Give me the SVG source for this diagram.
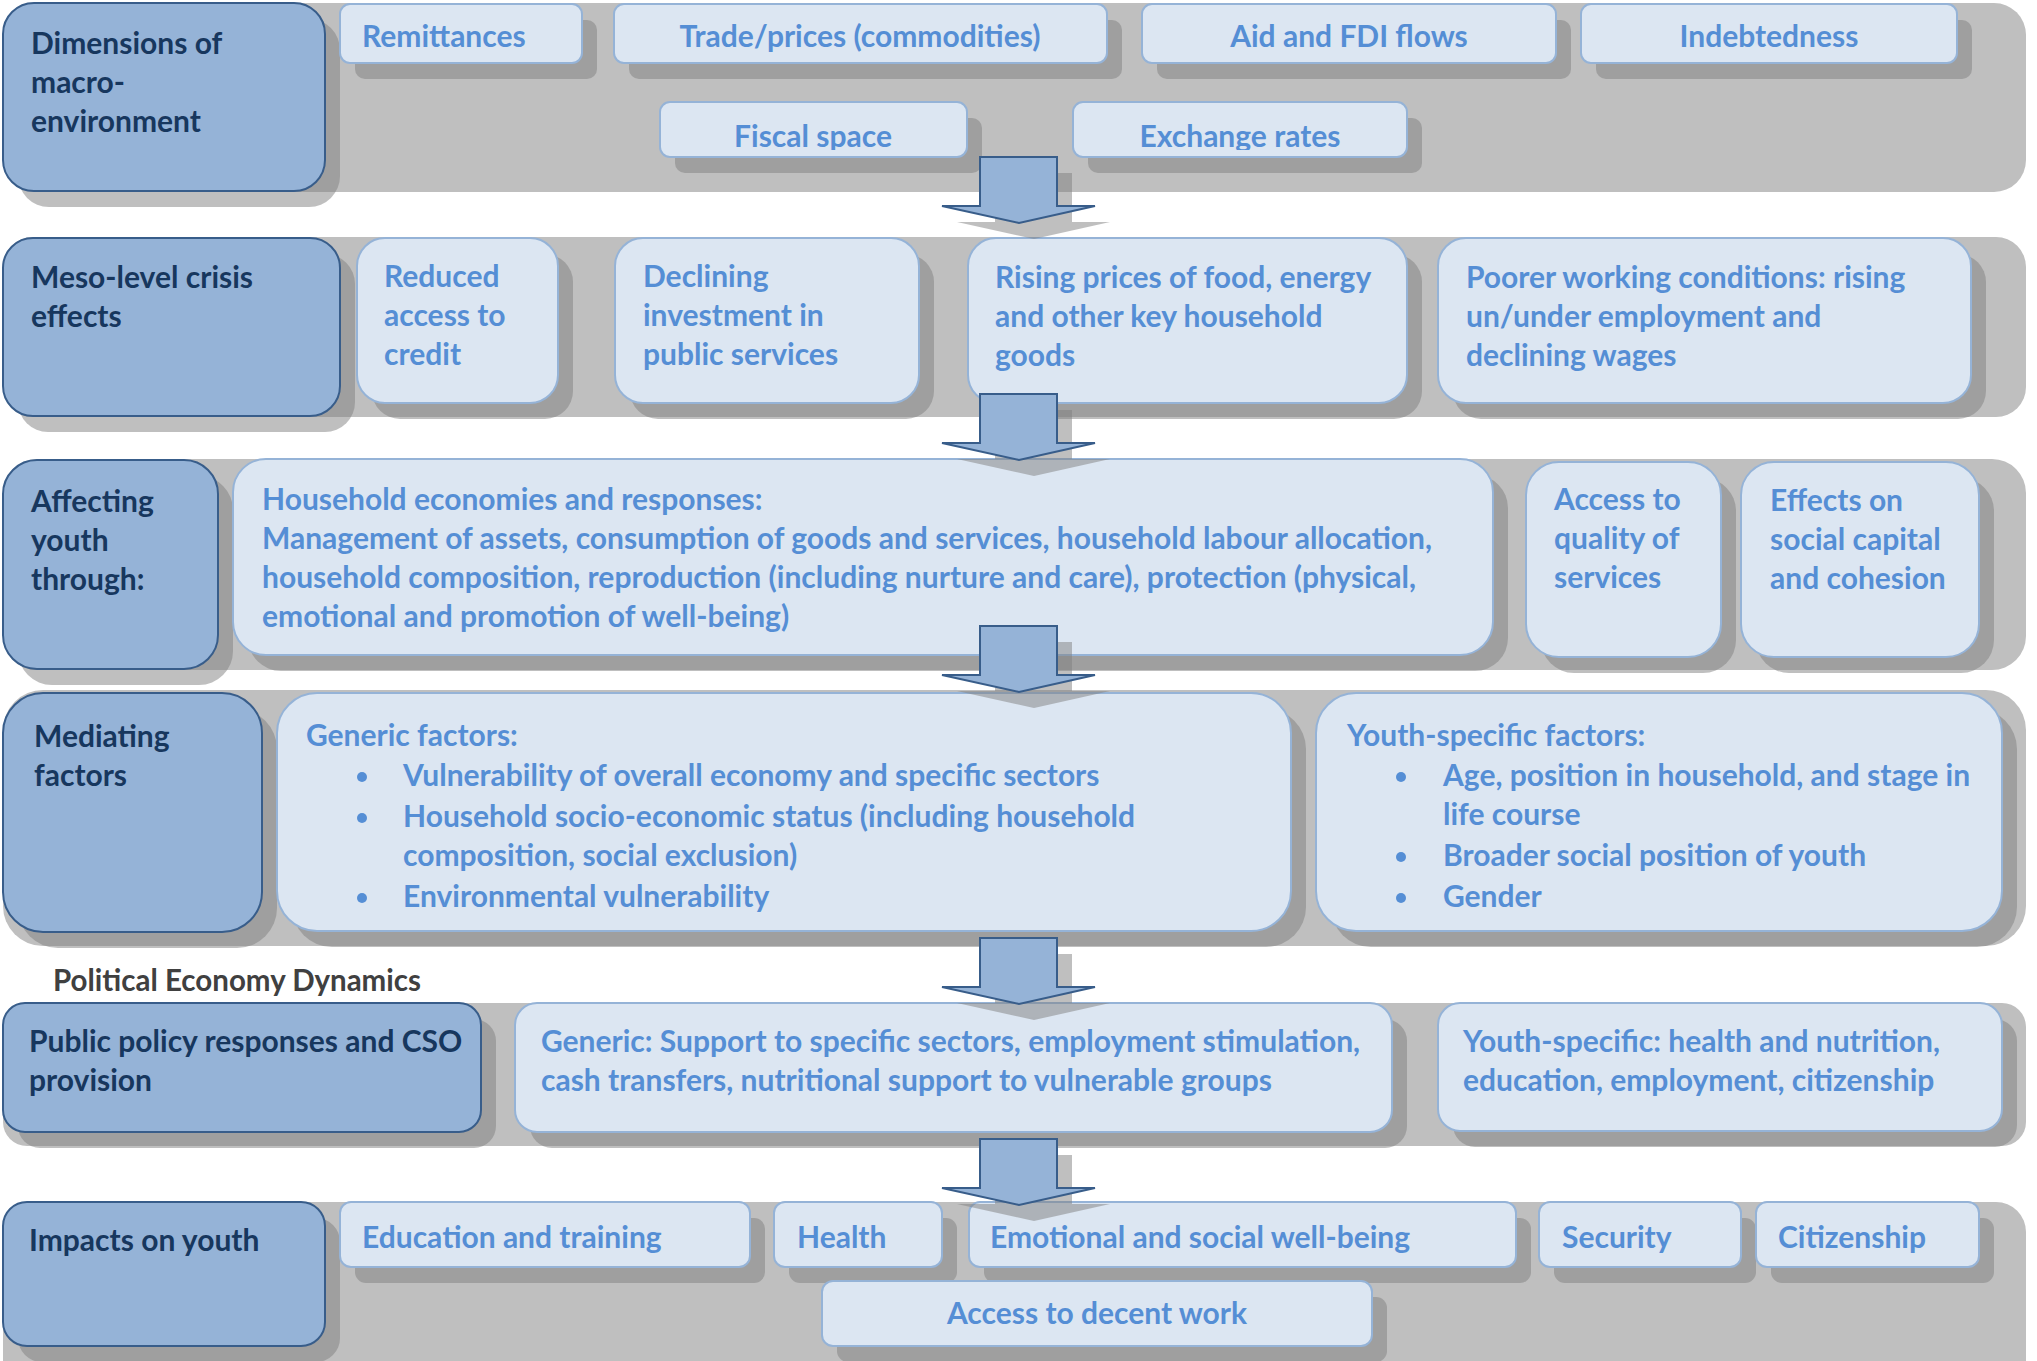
<svg xmlns="http://www.w3.org/2000/svg" width="2037" height="1361" viewBox="0 0 2037 1361">
<style>
.band{fill:#BFBFBF}
.sh{fill:#808080}
.lbox{fill:#95B3D7;stroke:#385D8A;stroke-width:2}
.box{fill:#DCE6F2;stroke:#95B3D7;stroke-width:2}
text{font-family:Lato,"Open Sans",sans-serif;font-weight:700;font-size:30px}
.lt{fill:#17375E}
.t{fill:#558ED5}
.c{text-anchor:middle}
.pe{fill:#404040;font-size:29.5px}
.arrow{fill:#95B3D7;stroke:#385D8A;stroke-width:2}
.bul{fill:#558ED5}
</style>
<defs>
<clipPath id="clipR1"><rect x="0" y="0" width="2037" height="150"/></clipPath>
</defs>
<rect width="2037" height="1361" fill="#FFFFFF"/>

<!-- Row 1 -->
<g id="row1">
<rect class="band" x="3" y="3" width="2023" height="189" rx="32"/>
<g opacity="0.5" class="sh">
<rect x="18" y="19" width="322" height="188" rx="31"/>
<rect x="355" y="20" width="242" height="59" rx="10"/>
<rect x="629" y="20" width="493" height="59" rx="10"/>
<rect x="1157" y="20" width="414" height="59" rx="10"/>
<rect x="1596" y="20" width="376" height="59" rx="10"/>
<rect x="675" y="118" width="307" height="55" rx="10"/>
<rect x="1088" y="118" width="334" height="55" rx="10"/>
</g>
<g id="n-macro"><rect class="lbox" x="3" y="3" width="322" height="188" rx="31"/>
<text class="lt" x="31" y="54">Dimensions of</text><text class="lt" x="31" y="93">macro-</text><text class="lt" x="31" y="132">environment</text></g>
<g id="n-remit"><rect class="box" x="340" y="4" width="242" height="59" rx="10"/><text class="t" x="362" y="47">Remittances</text></g>
<g id="n-trade"><rect class="box" x="614" y="4" width="493" height="59" rx="10"/><text class="t c" x="860" y="47">Trade/prices (commodities)</text></g>
<g id="n-aid"><rect class="box" x="1142" y="4" width="414" height="59" rx="10"/><text class="t c" x="1349" y="47">Aid and FDI flows</text></g>
<g id="n-debt"><rect class="box" x="1581" y="4" width="376" height="59" rx="10"/><text class="t c" x="1769" y="47">Indebtedness</text></g>
<g id="n-fiscal"><rect class="box" x="660" y="102" width="307" height="55" rx="10"/><text class="t c" x="813" y="147" clip-path="url(#clipR1)">Fiscal space</text></g>
<g id="n-exch"><rect class="box" x="1073" y="102" width="334" height="55" rx="10"/><text class="t c" x="1240" y="147" clip-path="url(#clipR1)">Exchange rates</text></g>
</g>

<!-- Row 2 -->
<g id="row2">
<rect class="band" x="3" y="237" width="2023" height="180" rx="30"/>
<g opacity="0.5" class="sh">
<rect x="18" y="254" width="337" height="178" rx="30"/>
<rect x="372" y="254" width="201" height="165" rx="28"/>
<rect x="630" y="254" width="304" height="165" rx="28"/>
<rect x="983" y="254" width="439" height="165" rx="28"/>
<rect x="1453" y="254" width="533" height="165" rx="28"/>
</g>
<g id="n-meso"><rect class="lbox" x="3" y="238" width="337" height="178" rx="30"/>
<text class="lt" x="31" y="288">Meso-level crisis</text><text class="lt" x="31" y="327">effects</text></g>
<g id="n-credit"><rect class="box" x="357" y="238" width="201" height="165" rx="28"/>
<text class="t" x="384" y="287">Reduced</text><text class="t" x="384" y="326">access to</text><text class="t" x="384" y="365">credit</text></g>
<g id="n-invest"><rect class="box" x="615" y="238" width="304" height="165" rx="28"/>
<text class="t" x="643" y="287">Declining</text><text class="t" x="643" y="326">investment in</text><text class="t" x="643" y="365">public services</text></g>
<g id="n-prices"><rect class="box" x="968" y="238" width="439" height="165" rx="28"/>
<text class="t" x="995" y="288">Rising prices of food, energy</text><text class="t" x="995" y="327">and other key household</text><text class="t" x="995" y="366">goods</text></g>
<g id="n-work"><rect class="box" x="1438" y="238" width="533" height="165" rx="28"/>
<text class="t" x="1466" y="288">Poorer working conditions: rising</text><text class="t" x="1466" y="327">un/under employment and</text><text class="t" x="1466" y="366">declining wages</text></g>
</g>

<!-- Row 3 -->
<g id="row3">
<rect class="band" x="3" y="459" width="2023" height="211" rx="34"/>
<g opacity="0.5" class="sh">
<rect x="18" y="476" width="215" height="209" rx="34"/>
<rect x="248" y="475" width="1260" height="196" rx="33"/>
<rect x="1541" y="478" width="195" height="195" rx="33"/>
<rect x="1756" y="478" width="238" height="195" rx="33"/>
</g>
<g id="n-affect"><rect class="lbox" x="3" y="460" width="215" height="209" rx="34"/>
<text class="lt" x="31" y="512">Affecting</text><text class="lt" x="31" y="551">youth</text><text class="lt" x="31" y="590">through:</text></g>
<g id="n-household"><rect class="box" x="233" y="459" width="1260" height="196" rx="33"/>
<text class="t" x="262" y="510">Household economies and responses:</text>
<text class="t" x="262" y="549">Management of assets, consumption of goods and services, household labour allocation,</text>
<text class="t" x="262" y="588">household composition, reproduction (including nurture and care), protection (physical,</text>
<text class="t" x="262" y="627">emotional and promotion of well-being)</text></g>
<g id="n-access"><rect class="box" x="1526" y="462" width="195" height="195" rx="33"/>
<text class="t" x="1554" y="510">Access to</text><text class="t" x="1554" y="549">quality of</text><text class="t" x="1554" y="588">services</text></g>
<g id="n-social"><rect class="box" x="1741" y="462" width="238" height="195" rx="33"/>
<text class="t" x="1770" y="511">Effects on</text><text class="t" x="1770" y="550">social capital</text><text class="t" x="1770" y="589">and cohesion</text></g>
</g>

<!-- Row 4 -->
<g id="row4">
<rect class="band" x="3" y="690" width="2023" height="256" rx="40"/>
<g opacity="0.5" class="sh">
<rect x="18" y="709" width="259" height="239" rx="40"/>
<rect x="292" y="709" width="1014" height="238" rx="40"/>
<rect x="1331" y="709" width="686" height="238" rx="40"/>
</g>
<g id="n-mediating"><rect class="lbox" x="3" y="693" width="259" height="239" rx="40"/>
<text class="lt" x="34" y="747">Mediating</text><text class="lt" x="34" y="786">factors</text></g>
<g id="n-generic"><rect class="box" x="277" y="693" width="1014" height="238" rx="40"/>
<text class="t" x="306" y="746">Generic factors:</text>
<circle class="bul" cx="362" cy="777" r="5"/><text class="t" x="403" y="786">Vulnerability of overall economy and specific sectors</text>
<circle class="bul" cx="362" cy="818" r="5"/><text class="t" x="403" y="827">Household socio-economic status (including household</text>
<text class="t" x="403" y="866">composition, social exclusion)</text>
<circle class="bul" cx="362" cy="898" r="5"/><text class="t" x="403" y="907">Environmental vulnerability</text></g>
<g id="n-youthfactors"><rect class="box" x="1316" y="693" width="686" height="238" rx="40"/>
<text class="t" x="1347" y="746">Youth-specific factors:</text>
<circle class="bul" cx="1401" cy="777" r="5"/><text class="t" x="1443" y="786">Age, position in household, and stage in</text>
<text class="t" x="1443" y="825">life course</text>
<circle class="bul" cx="1401" cy="857" r="5"/><text class="t" x="1443" y="866">Broader social position of youth</text>
<circle class="bul" cx="1401" cy="898" r="5"/><text class="t" x="1443" y="907">Gender</text></g>
</g>

<text id="n-ped" class="pe" x="53" y="991">Political Economy Dynamics</text>

<!-- Row 5 -->
<g id="row5">
<rect class="band" x="3" y="1003" width="2023" height="143" rx="24"/>
<g opacity="0.5" class="sh">
<rect x="18" y="1019" width="478" height="129" rx="22"/>
<rect x="530" y="1019" width="877" height="129" rx="22"/>
<rect x="1453" y="1019" width="564" height="128" rx="22"/>
</g>
<g id="n-policy"><rect class="lbox" x="3" y="1003" width="478" height="129" rx="22"/>
<text class="lt" x="29" y="1052">Public policy responses and CSO</text><text class="lt" x="29" y="1091">provision</text></g>
<g id="n-genericpolicy"><rect class="box" x="515" y="1003" width="877" height="129" rx="22"/>
<text class="t" x="541" y="1052">Generic: Support to specific sectors, employment stimulation,</text>
<text class="t" x="541" y="1091">cash transfers, nutritional support to vulnerable groups</text></g>
<g id="n-youthpolicy"><rect class="box" x="1438" y="1003" width="564" height="128" rx="22"/>
<text class="t" x="1463" y="1052">Youth-specific: health and nutrition,</text>
<text class="t" x="1463" y="1091">education, employment, citizenship</text></g>
</g>

<!-- Row 6 -->
<g id="row6">
<rect class="band" x="3" y="1202" width="2023" height="190" rx="30"/>
<g opacity="0.5" class="sh">
<rect x="18" y="1218" width="322" height="144" rx="24"/>
<rect x="355" y="1218" width="410" height="65" rx="11"/>
<rect x="789" y="1218" width="168" height="65" rx="11"/>
<rect x="984" y="1218" width="547" height="65" rx="11"/>
<rect x="1554" y="1218" width="202" height="65" rx="11"/>
<rect x="1771" y="1218" width="223" height="65" rx="11"/>
<rect x="837" y="1297" width="550" height="65" rx="11"/>
</g>
<g id="n-impacts"><rect class="lbox" x="3" y="1202" width="322" height="144" rx="24"/>
<text class="lt" x="29" y="1251">Impacts on youth</text></g>
<g id="n-edu"><rect class="box" x="340" y="1202" width="410" height="65" rx="11"/><text class="t" x="362" y="1248">Education and training</text></g>
<g id="n-health"><rect class="box" x="774" y="1202" width="168" height="65" rx="11"/><text class="t" x="797" y="1248">Health</text></g>
<g id="n-emo"><rect class="box" x="969" y="1202" width="547" height="65" rx="11"/><text class="t" x="990" y="1248">Emotional and social well-being</text></g>
<g id="n-sec"><rect class="box" x="1539" y="1202" width="202" height="65" rx="11"/><text class="t" x="1562" y="1248">Security</text></g>
<g id="n-cit"><rect class="box" x="1756" y="1202" width="223" height="65" rx="11"/><text class="t" x="1778" y="1248">Citizenship</text></g>
<g id="n-work2"><rect class="box" x="822" y="1281" width="550" height="65" rx="11"/><text class="t c" x="1097" y="1324">Access to decent work</text></g>
</g>

<!-- Connectors -->
<g id="connectors">
<g opacity="0.5" class="sh">
<path d="M995,173 H1072 V222 H1110 L1034,239 L957,222 H995 Z"/>
<path d="M995,410 H1072 V459 H1110 L1034,476 L957,459 H995 Z"/>
<path d="M995,642 H1072 V691 H1110 L1034,708 L957,691 H995 Z"/>
<path d="M995,954 H1072 V1003 H1110 L1034,1020 L957,1003 H995 Z"/>
<path d="M995,1155 H1072 V1204 H1110 L1034,1221 L957,1204 H995 Z"/>
</g>
<path class="arrow" d="M980,157 H1057 V206 H1095 L1019,223 L942,206 H980 Z"/>
<path class="arrow" d="M980,394 H1057 V443 H1095 L1019,460 L942,443 H980 Z"/>
<path class="arrow" d="M980,626 H1057 V675 H1095 L1019,692 L942,675 H980 Z"/>
<path class="arrow" d="M980,938 H1057 V987 H1095 L1019,1004 L942,987 H980 Z"/>
<path class="arrow" d="M980,1139 H1057 V1188 H1095 L1019,1205 L942,1188 H980 Z"/>
</g>
</svg>
